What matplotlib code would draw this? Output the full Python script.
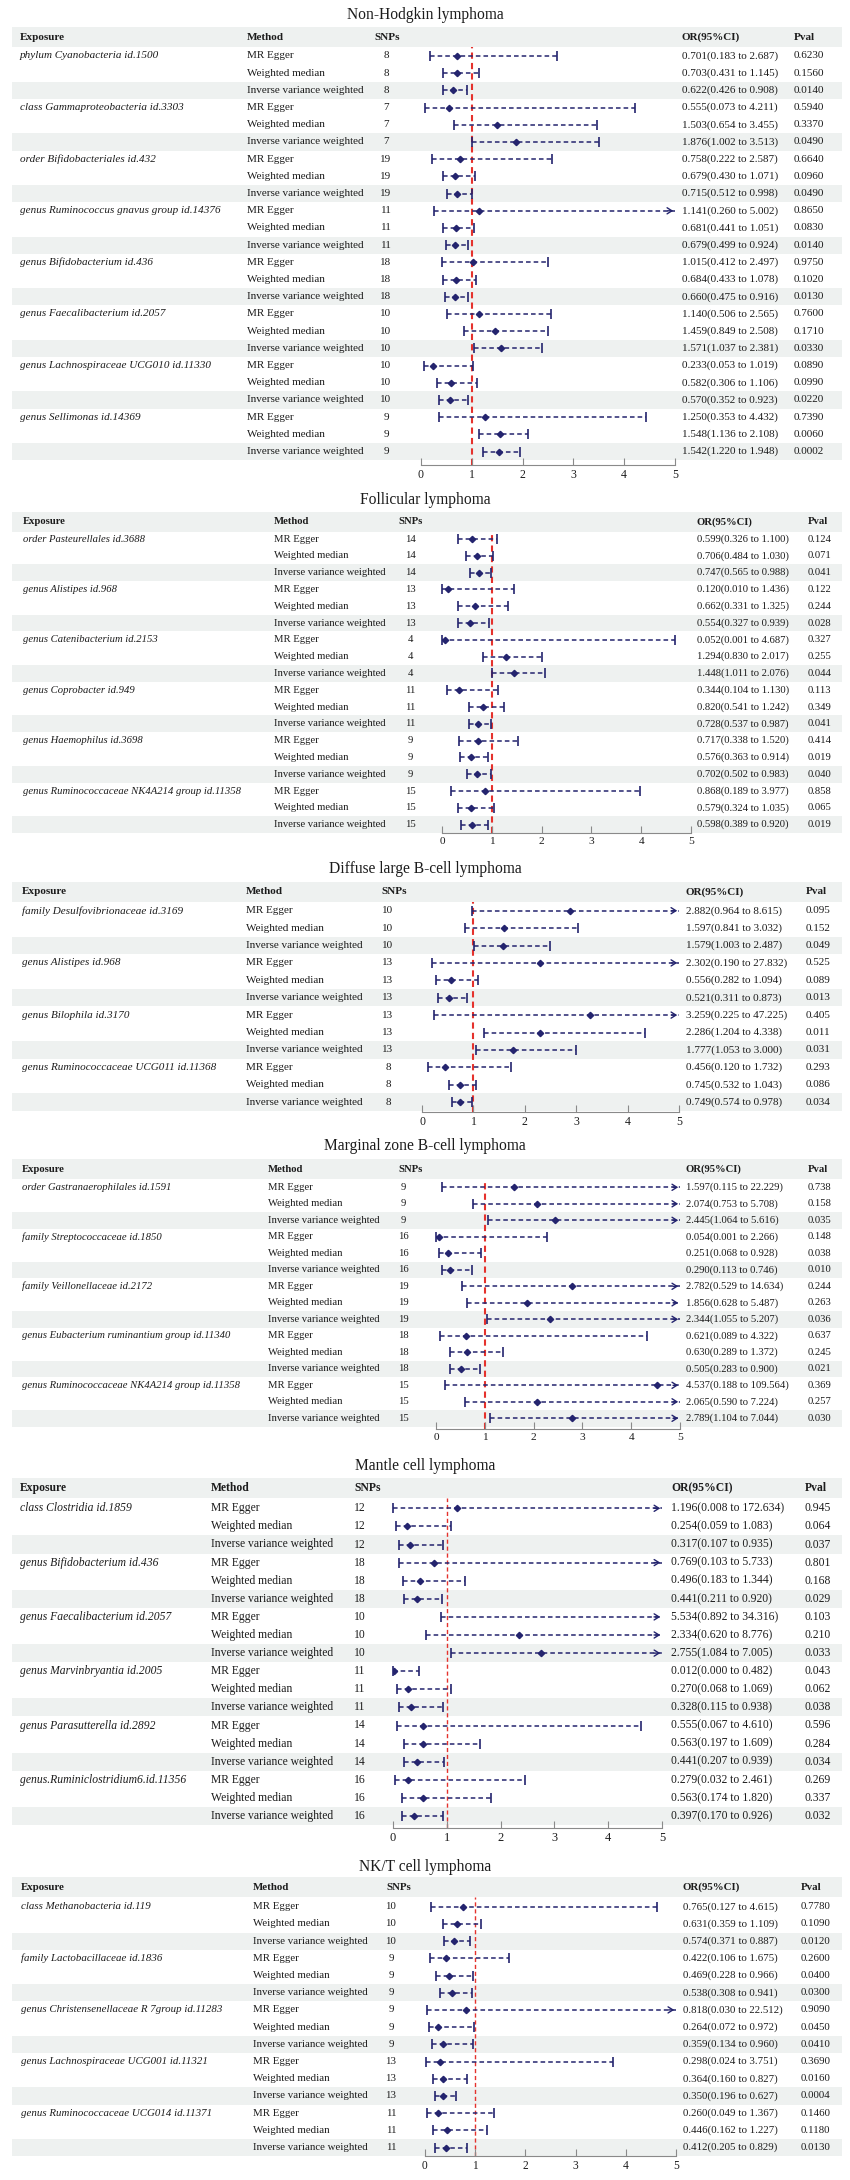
import matplotlib
matplotlib.use("Agg")
import matplotlib.pyplot as plt
from matplotlib.patches import Rectangle

plt.rcParams['font.family'] = ['Liberation Serif', 'DejaVu Serif']

W, H = 850, 2180
INK = '#1c1c1c'
NAVY = '#24246e'
RED = '#e5322d'
BAND = '#eef1f0'
GRID = '#8a8a8a'

methods = ['MR Egger', 'Weighted median', 'Inverse variance weighted']

# ---- Non-Hodgkin lymphoma
nhl_exposure = ['phylum Cyanobacteria id.1500', 'class Gammaproteobacteria id.3303',
                'order Bifidobacteriales id.432', 'genus Ruminococcus gnavus group id.14376',
                'genus Bifidobacterium id.436', 'genus Faecalibacterium id.2057',
                'genus Lachnospiraceae UCG010 id.11330', 'genus Sellimonas id.14369']
nhl_snps = [8, 7, 19, 11, 18, 10, 10, 9]
nhl_or = [0.701, 0.703, 0.622, 0.555, 1.503, 1.876, 0.758, 0.679, 0.715, 1.141, 0.681, 0.679,
          1.015, 0.684, 0.660, 1.140, 1.459, 1.571, 0.233, 0.582, 0.570, 1.250, 1.548, 1.542]
nhl_lo = [0.183, 0.431, 0.426, 0.073, 0.654, 1.002, 0.222, 0.430, 0.512, 0.260, 0.441, 0.499,
          0.412, 0.433, 0.475, 0.506, 0.849, 1.037, 0.053, 0.306, 0.352, 0.353, 1.136, 1.220]
nhl_hi = [2.687, 1.145, 0.908, 4.211, 3.455, 3.513, 2.587, 1.071, 0.998, 5.002, 1.051, 0.924,
          2.497, 1.078, 0.916, 2.565, 2.508, 2.381, 1.019, 1.106, 0.923, 4.432, 2.108, 1.948]
nhl_pval = ['0.6230', '0.1560', '0.0140', '0.5940', '0.3370', '0.0490', '0.6640', '0.0960',
            '0.0490', '0.8650', '0.0830', '0.0140', '0.9750', '0.1020', '0.0130', '0.7600',
            '0.1710', '0.0330', '0.0890', '0.0990', '0.0220', '0.7390', '0.0060', '0.0002']

# ---- Follicular lymphoma
fl_exposure = ['order Pasteurellales id.3688', 'genus Alistipes id.968', 'genus Catenibacterium id.2153',
               'genus Coprobacter id.949', 'genus Haemophilus id.3698',
               'genus Ruminococcaceae NK4A214 group id.11358']
fl_snps = [14, 13, 4, 11, 9, 15]
fl_or = [0.599, 0.706, 0.747, 0.120, 0.662, 0.554, 0.052, 1.294, 1.448,
         0.344, 0.820, 0.728, 0.717, 0.576, 0.702, 0.868, 0.579, 0.598]
fl_lo = [0.326, 0.484, 0.565, 0.010, 0.331, 0.327, 0.001, 0.830, 1.011,
         0.104, 0.541, 0.537, 0.338, 0.363, 0.502, 0.189, 0.324, 0.389]
fl_hi = [1.100, 1.030, 0.988, 1.436, 1.325, 0.939, 4.687, 2.017, 2.076,
         1.130, 1.242, 0.987, 1.520, 0.914, 0.983, 3.977, 1.035, 0.920]
fl_pval = ['0.124', '0.071', '0.041', '0.122', '0.244', '0.028', '0.327', '0.255', '0.044',
           '0.113', '0.349', '0.041', '0.414', '0.019', '0.040', '0.858', '0.065', '0.019']

# ---- Diffuse large B-cell lymphoma
dl_exposure = ['family Desulfovibrionaceae id.3169', 'genus Alistipes id.968',
               'genus Bilophila id.3170', 'genus Ruminococcaceae UCG011 id.11368']
dl_snps = [10, 13, 13, 8]
dl_or = [2.882, 1.597, 1.579, 2.302, 0.556, 0.521, 3.259, 2.286, 1.777, 0.456, 0.745, 0.749]
dl_lo = [0.964, 0.841, 1.003, 0.190, 0.282, 0.311, 0.225, 1.204, 1.053, 0.120, 0.532, 0.574]
dl_hi = [8.615, 3.032, 2.487, 27.832, 1.094, 0.873, 47.225, 4.338, 3.000, 1.732, 1.043, 0.978]
dl_pval = ['0.095', '0.152', '0.049', '0.525', '0.089', '0.013',
           '0.405', '0.011', '0.031', '0.293', '0.086', '0.034']

# ---- Marginal zone B-cell lymphoma
mz_exposure = ['order Gastranaerophilales id.1591', 'family Streptococcaceae id.1850',
               'family Veillonellaceae id.2172', 'genus Eubacterium ruminantium group id.11340',
               'genus Ruminococcaceae NK4A214 group id.11358']
mz_snps = [9, 16, 19, 18, 15]
mz_or = [1.597, 2.074, 2.445, 0.054, 0.251, 0.290, 2.782, 1.856, 2.344,
         0.621, 0.630, 0.505, 4.537, 2.065, 2.789]
mz_lo = [0.115, 0.753, 1.064, 0.001, 0.068, 0.113, 0.529, 0.628, 1.055,
         0.089, 0.289, 0.283, 0.188, 0.590, 1.104]
mz_hi = [22.229, 5.708, 5.616, 2.266, 0.928, 0.746, 14.634, 5.487, 5.207,
         4.322, 1.372, 0.900, 109.564, 7.224, 7.044]
mz_pval = ['0.738', '0.158', '0.035', '0.148', '0.038', '0.010', '0.244', '0.263', '0.036',
           '0.637', '0.245', '0.021', '0.369', '0.257', '0.030']

# ---- Mantle cell lymphoma
mc_exposure = ['class Clostridia id.1859', 'genus Bifidobacterium id.436',
               'genus Faecalibacterium id.2057', 'genus Marvinbryantia id.2005',
               'genus Parasutterella id.2892', 'genus.Ruminiclostridium6.id.11356']
mc_snps = [12, 18, 10, 11, 14, 16]
mc_or = [1.196, 0.254, 0.317, 0.769, 0.496, 0.441, 5.534, 2.334, 2.755,
         0.012, 0.270, 0.328, 0.555, 0.563, 0.441, 0.279, 0.563, 0.397]
mc_lo = [0.008, 0.059, 0.107, 0.103, 0.183, 0.211, 0.892, 0.620, 1.084,
         0.000, 0.068, 0.115, 0.067, 0.197, 0.207, 0.032, 0.174, 0.170]
mc_hi = [172.634, 1.083, 0.935, 5.733, 1.344, 0.920, 34.316, 8.776, 7.005,
         0.482, 1.069, 0.938, 4.610, 1.609, 0.939, 2.461, 1.820, 0.926]
mc_pval = ['0.945', '0.064', '0.037', '0.801', '0.168', '0.029', '0.103', '0.210', '0.033',
           '0.043', '0.062', '0.038', '0.596', '0.284', '0.034', '0.269', '0.337', '0.032']

# ---- NK/T cell lymphoma
nk_exposure = ['class Methanobacteria id.119', 'family Lactobacillaceae id.1836',
               'genus Christensenellaceae R 7group id.11283', 'genus Lachnospiraceae UCG001 id.11321',
               'genus Ruminococcaceae UCG014 id.11371']
nk_snps = [10, 9, 9, 13, 11]
nk_or = [0.765, 0.631, 0.574, 0.422, 0.469, 0.538, 0.818, 0.264, 0.359,
         0.298, 0.364, 0.350, 0.260, 0.446, 0.412]
nk_lo = [0.127, 0.359, 0.371, 0.106, 0.228, 0.308, 0.030, 0.072, 0.134,
         0.024, 0.160, 0.196, 0.049, 0.162, 0.205]
nk_hi = [4.615, 1.109, 0.887, 1.675, 0.966, 0.941, 22.512, 0.972, 0.960,
         3.751, 0.827, 0.627, 1.367, 1.227, 0.829]
nk_pval = ['0.7780', '0.1090', '0.0120', '0.2600', '0.0400', '0.0300', '0.9090', '0.0450', '0.0410',
           '0.3690', '0.0160', '0.0004', '0.1460', '0.1180', '0.0130']

# layout of each panel, in pixels of the 850x2180 canvas
panels = [
    dict(title='Non-Hodgkin lymphoma', exposure=nhl_exposure, snps=nhl_snps, orv=nhl_or,
         lo=nhl_lo, hi=nhl_hi, pval=nhl_pval,
         title_y=15, head_y=37, row0=56, sp=17.2, axis_y=465,
         x_exp=20, x_meth=247, x_snp=374, snp_dx=12, ax0=421, ax5=675, x_or=682, x_p=794,
         fs=8, ref_lw=1.5),
    dict(title='Follicular lymphoma', exposure=fl_exposure, snps=fl_snps, orv=fl_or,
         lo=fl_lo, hi=fl_hi, pval=fl_pval,
         title_y=500, head_y=522, row0=539, sp=16.8, axis_y=833,
         x_exp=23, x_meth=274, x_snp=398, snp_dx=12, ax0=442, ax5=691, x_or=697, x_p=808,
         fs=7.7, ref_lw=1.5),
    dict(title='Diffuse large B-cell lymphoma', exposure=dl_exposure, snps=dl_snps, orv=dl_or,
         lo=dl_lo, hi=dl_hi, pval=dl_pval,
         title_y=869, head_y=892, row0=910.7, sp=17.4, axis_y=1112,
         x_exp=22, x_meth=246, x_snp=381, snp_dx=7, ax0=422, ax5=679, x_or=686, x_p=806,
         fs=8, ref_lw=1.5),
    dict(title='Marginal zone B-cell lymphoma', exposure=mz_exposure, snps=mz_snps, orv=mz_or,
         lo=mz_lo, hi=mz_hi, pval=mz_pval,
         title_y=1146, head_y=1169, row0=1187.3, sp=16.5, axis_y=1429,
         x_exp=22, x_meth=268, x_snp=398, snp_dx=5, ax0=436, ax5=680, x_or=686, x_p=808,
         fs=7.7, ref_lw=1.5),
    dict(title='Mantle cell lymphoma', exposure=mc_exposure, snps=mc_snps, orv=mc_or,
         lo=mc_lo, hi=mc_hi, pval=mc_pval,
         title_y=1466, head_y=1488, row0=1508.3, sp=18.1, axis_y=1828,
         x_exp=20, x_meth=211, x_snp=354, snp_dx=6, ax0=393, ax5=662, x_or=671, x_p=805,
         fs=8.4, ref_lw=1.0),
    dict(title='NK/T cell lymphoma', exposure=nk_exposure, snps=nk_snps, orv=nk_or,
         lo=nk_lo, hi=nk_hi, pval=nk_pval,
         title_y=1867, head_y=1887, row0=1906.7, sp=17.2, axis_y=2156,
         x_exp=21, x_meth=253, x_snp=386, snp_dx=5, ax0=425, ax5=676, x_or=683, x_p=801,
         fs=7.8, ref_lw=1.0),
]

fig = plt.figure(figsize=(W / 100, H / 100), dpi=100)
bg = fig.add_axes([0, 0, 1, 1])
bg.set_xlim(0, W)
bg.set_ylim(H, 0)
bg.axis('off')


def draw_panel(p):
    fs = p['fs']
    n = len(p['orv'])
    bg.text(425, p['title_y'], p['title'], ha='center', va='center', fontsize=11.2, color=INK)
    # header row
    bg.add_patch(Rectangle((12, p['head_y'] - 10), 830, 20, color=BAND, lw=0))
    for x, lab in [(p['x_exp'], 'Exposure'), (p['x_meth'], 'Method'), (p['x_snp'], 'SNPs'),
                   (p['x_or'], 'OR(95%CI)'), (p['x_p'], 'Pval')]:
        bg.text(x, p['head_y'], lab, ha='left', va='center', fontsize=fs,
                fontweight='bold', color=INK)
    # table rows
    for i in range(n):
        y = p['row0'] + i * p['sp']
        if i % 3 == 2:
            bg.add_patch(Rectangle((12, y - p['sp'] / 2), 830, p['sp'], color=BAND, lw=0))
        if i % 3 == 0:
            bg.text(p['x_exp'], y, p['exposure'][i // 3], ha='left', va='center',
                    fontsize=fs, style='italic', color=INK)
        bg.text(p['x_meth'], y, methods[i % 3], ha='left', va='center', fontsize=fs, color=INK)
        bg.text(p['x_snp'] + p['snp_dx'], y, str(p['snps'][i // 3]), ha='center', va='center',
                fontsize=fs, color=INK)
        txt = '%.3f(%.3f to %.3f)' % (p['orv'][i], p['lo'][i], p['hi'][i])
        bg.text(p['x_or'], y, txt, ha='left', va='center', fontsize=fs, color=INK)
        bg.text(p['x_p'], y, p['pval'][i], ha='left', va='center', fontsize=fs, color=INK)

    # forest plot column
    top = p['head_y'] + 10
    ax = fig.add_axes([p['ax0'] / W, 1 - p['axis_y'] / H,
                       (p['ax5'] - p['ax0']) / W, (p['axis_y'] - top) / H])
    ax.patch.set_alpha(0)
    ax.set_xlim(0, 5)
    ax.set_ylim((p['axis_y'] - p['row0']) / p['sp'], (top - p['row0']) / p['sp'])
    ax.axvline(1, color=RED, ls=(0, (3, 2)), lw=p['ref_lw'], zorder=1)
    for i in range(n):
        lo, hi, est = p['lo'][i], p['hi'][i], p['orv'][i]
        ax.plot([lo, min(hi, 5)], [i, i], ls=(0, (3, 2)), color=NAVY, lw=1.1,
                clip_on=False, zorder=3)
        ax.plot([lo], [i], marker='|', ms=7, mew=1.2, color=NAVY, clip_on=False, zorder=3)
        if hi > 5:
            ax.annotate('', xy=(5.02, i), xytext=(4.8, i), annotation_clip=False,
                        arrowprops=dict(arrowstyle='->,head_length=0.35,head_width=0.22',
                                        color=NAVY, lw=1.0), zorder=3)
        else:
            ax.plot([hi], [i], marker='|', ms=7, mew=1.2, color=NAVY, clip_on=False, zorder=3)
        if est <= 5:
            ax.plot([est], [i], marker='D', ms=3.2, color=NAVY, zorder=4)
    for s in ['top', 'left', 'right']:
        ax.spines[s].set_visible(False)
    ax.spines['bottom'].set_color(GRID)
    ax.spines['bottom'].set_bounds(0, 5)
    ax.set_yticks([])
    ax.set_xticks([0, 1, 2, 3, 4, 5])
    ax.tick_params(axis='x', direction='in', length=5, color=GRID, labelsize=fs + 0.5,
                   labelcolor=INK, pad=3)


for p in panels:
    draw_panel(p)

fig.savefig('out.png', dpi=100)
